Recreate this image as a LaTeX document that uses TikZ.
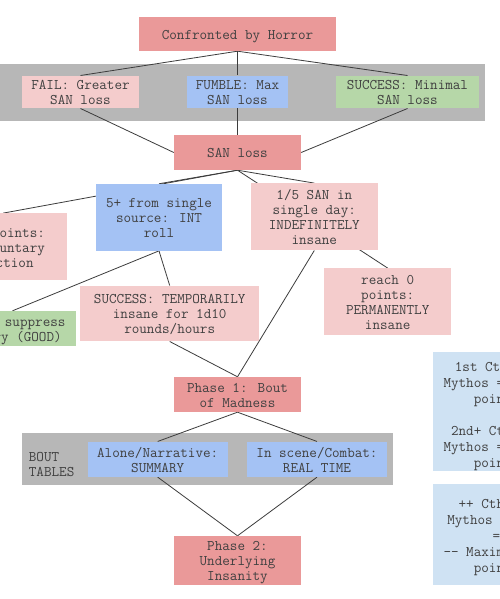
\documentclass[tikz,border=0pt]{standalone}
\usepackage{fontspec}
\pgfdeclarelayer{bands}
\pgfdeclarelayer{edges}
\pgfsetlayers{bands,edges,main}
\definecolor{redbox}{HTML}{EA9999}
\definecolor{pinkbox}{HTML}{F4CCCC}
\definecolor{bluebox}{HTML}{A4C2F4}
\definecolor{greenbox}{HTML}{B6D7A8}
\definecolor{graybox}{HTML}{B7B7B7}
\definecolor{paleblue}{HTML}{CFE2F3}
\definecolor{txtcol}{HTML}{404040}
\definecolor{wirecol}{HTML}{3C3C3C}
\newcommand{\strA}{\rule{0pt}{14pt}}
\newcommand{\strB}{\rule[-3.6pt]{0pt}{0pt}}
\begin{document}
\begin{tikzpicture}[x=1pt,y=-1pt,
  box/.style={rectangle, inner sep=0pt, align=center, text=txtcol,
    font=\ttfamily\fontsize{14.7}{15}\selectfont},
  rbox/.style={box, font=\ttfamily\fontsize{14.7}{16}\selectfont},
  sz/.style 2 args={minimum width=#1pt, minimum height=#2pt},
  band/.style={rectangle, inner sep=0pt, fill=graybox},
  wire/.style={draw=wirecol, line width=0.8pt}]
\useasboundingbox (0,0) rectangle (500,599);

\begin{pgfonlayer}{bands}
\fill[white] (0,0) rectangle (500,599);
\node[band, sz={495}{57}] (outcomeband) at (237.5,92.5) {};
\node[band, sz={371.3}{52}] (boutband) at (207.7,459.3) {};
\end{pgfonlayer}

% nodes
\node[box, fill=redbox, sz={197}{34}] (horror) at (237.5,34) {\strA Confronted by Horror\strB};
\node[box, fill=pinkbox, sz={117}{32}] (fail) at (80.5,92) {\strA FAIL: Greater\\SAN loss\strB};
\node[box, fill=bluebox, sz={101}{32}] (fumble) at (237.5,92) {\strA FUMBLE: Max\\SAN loss\strB};
\node[box, fill=greenbox, sz={143}{32}] (success) at (407.5,92) {\strA SUCCESS: Minimal\\SAN loss\strB};
\node[box, fill=redbox, sz={127}{35}] (sanloss) at (237.5,152.5) {\strA SAN loss\strB};

\node[box, fill=pinkbox, sz={126.7}{67}] (invol) at (3.3,246.8) {\strA 1-4 points:\\involuntary\\reaction\strB};
\node[box, fill=bluebox, sz={126.6}{66.7}] (int) at (159,217.3) {\strA 5+ from single\\source: INT\\roll\strB};
\node[box, fill=pinkbox, sz={126.7}{67}] (indef) at (314.3,216.8) {\strA 1/5 SAN in\\single day:\\INDEFINITELY\\insane\strB};
\node[box, fill=pinkbox, sz={126.7}{66.4}] (perm) at (387.7,301.5) {\strA reach 0\\points:\\PERMANENTLY\\insane\strB};
\node[box, fill=pinkbox, sz={179.3}{55.6}] (temp) at (169.7,313.5) {\strA SUCCESS: TEMPORARILY\\insane for 1d10\\rounds/hours\strB};
\node[box, fill=greenbox, sz={127}{35}] (suppress) at (12.5,328.5) {\strA FAIL: suppress\\memory (GOOD)\strB};

\node[box, fill=redbox, sz={127}{35}] (phase1) at (237.5,394.5) {\strA Phase 1: Bout\\of Madness\strB};
\node[box, anchor=west, align=left] (bouttxt) at (28.7,463.5) {\strA BOUT\\TABLES\strB};
\node[box, fill=bluebox, sz={140}{35.3}] (alone) at (157.7,459.3) {\strA Alone/Narrative:\\SUMMARY\strB};
\node[box, fill=bluebox, sz={140}{35.3}] (scene) at (317,459.3) {\strA In scene/Combat:\\REAL TIME\strB};
\node[box, fill=redbox, sz={127}{49}] (phase2) at (237.5,560.5) {\strA Phase 2:\\Underlying\\Insanity\strB};

\node[rbox, fill=paleblue, sz={127}{117.3}] (cmfirst) at (496.5,411.3) {\rule{0pt}{19pt}1st Cthulhu\\Mythos = +5 CM\\points\\[16pt]2nd+ Cthulhu\\Mythos = +1 CM\\points\strB};
\node[rbox, fill=paleblue, sz={127}{100.7}] (cmmore) at (496.5,534.7) {\rule{0pt}{16pt}++ Cthulhu\\Mythos points\\=\\-- Maximum SAN\\points\strB};

% connectors
\begin{pgfonlayer}{edges}
\draw[wire] (horror.south) -- (fail.north);
\draw[wire] (horror.south) -- (fumble.north);
\draw[wire] (horror.south) -- (success.north);
\draw[wire] (fail.south) -- (sanloss.west);
\draw[wire] (fumble.south) -- (sanloss.north);
\draw[wire] (success.south) -- (sanloss.east);
\draw[wire] (sanloss.south) -- (invol.north);
\draw[wire] (sanloss.south) -- (int.north);
\draw[wire] (sanloss.south) -- (indef.north);
\draw[wire] (sanloss.south) -- (perm.north);
\draw[wire] (int.south) -- (suppress.north);
\draw[wire] (int.south) -- (temp.north);
\draw[wire] (temp.south) -- (phase1.north);
\draw[wire] (indef.south) -- (phase1.north);
\draw[wire] (phase1.south) -- (alone.north);
\draw[wire] (phase1.south) -- (scene.north);
\draw[wire] (alone.south) -- (phase2.north);
\draw[wire] (scene.south) -- (phase2.north);
\end{pgfonlayer}
\end{tikzpicture}
\end{document}
